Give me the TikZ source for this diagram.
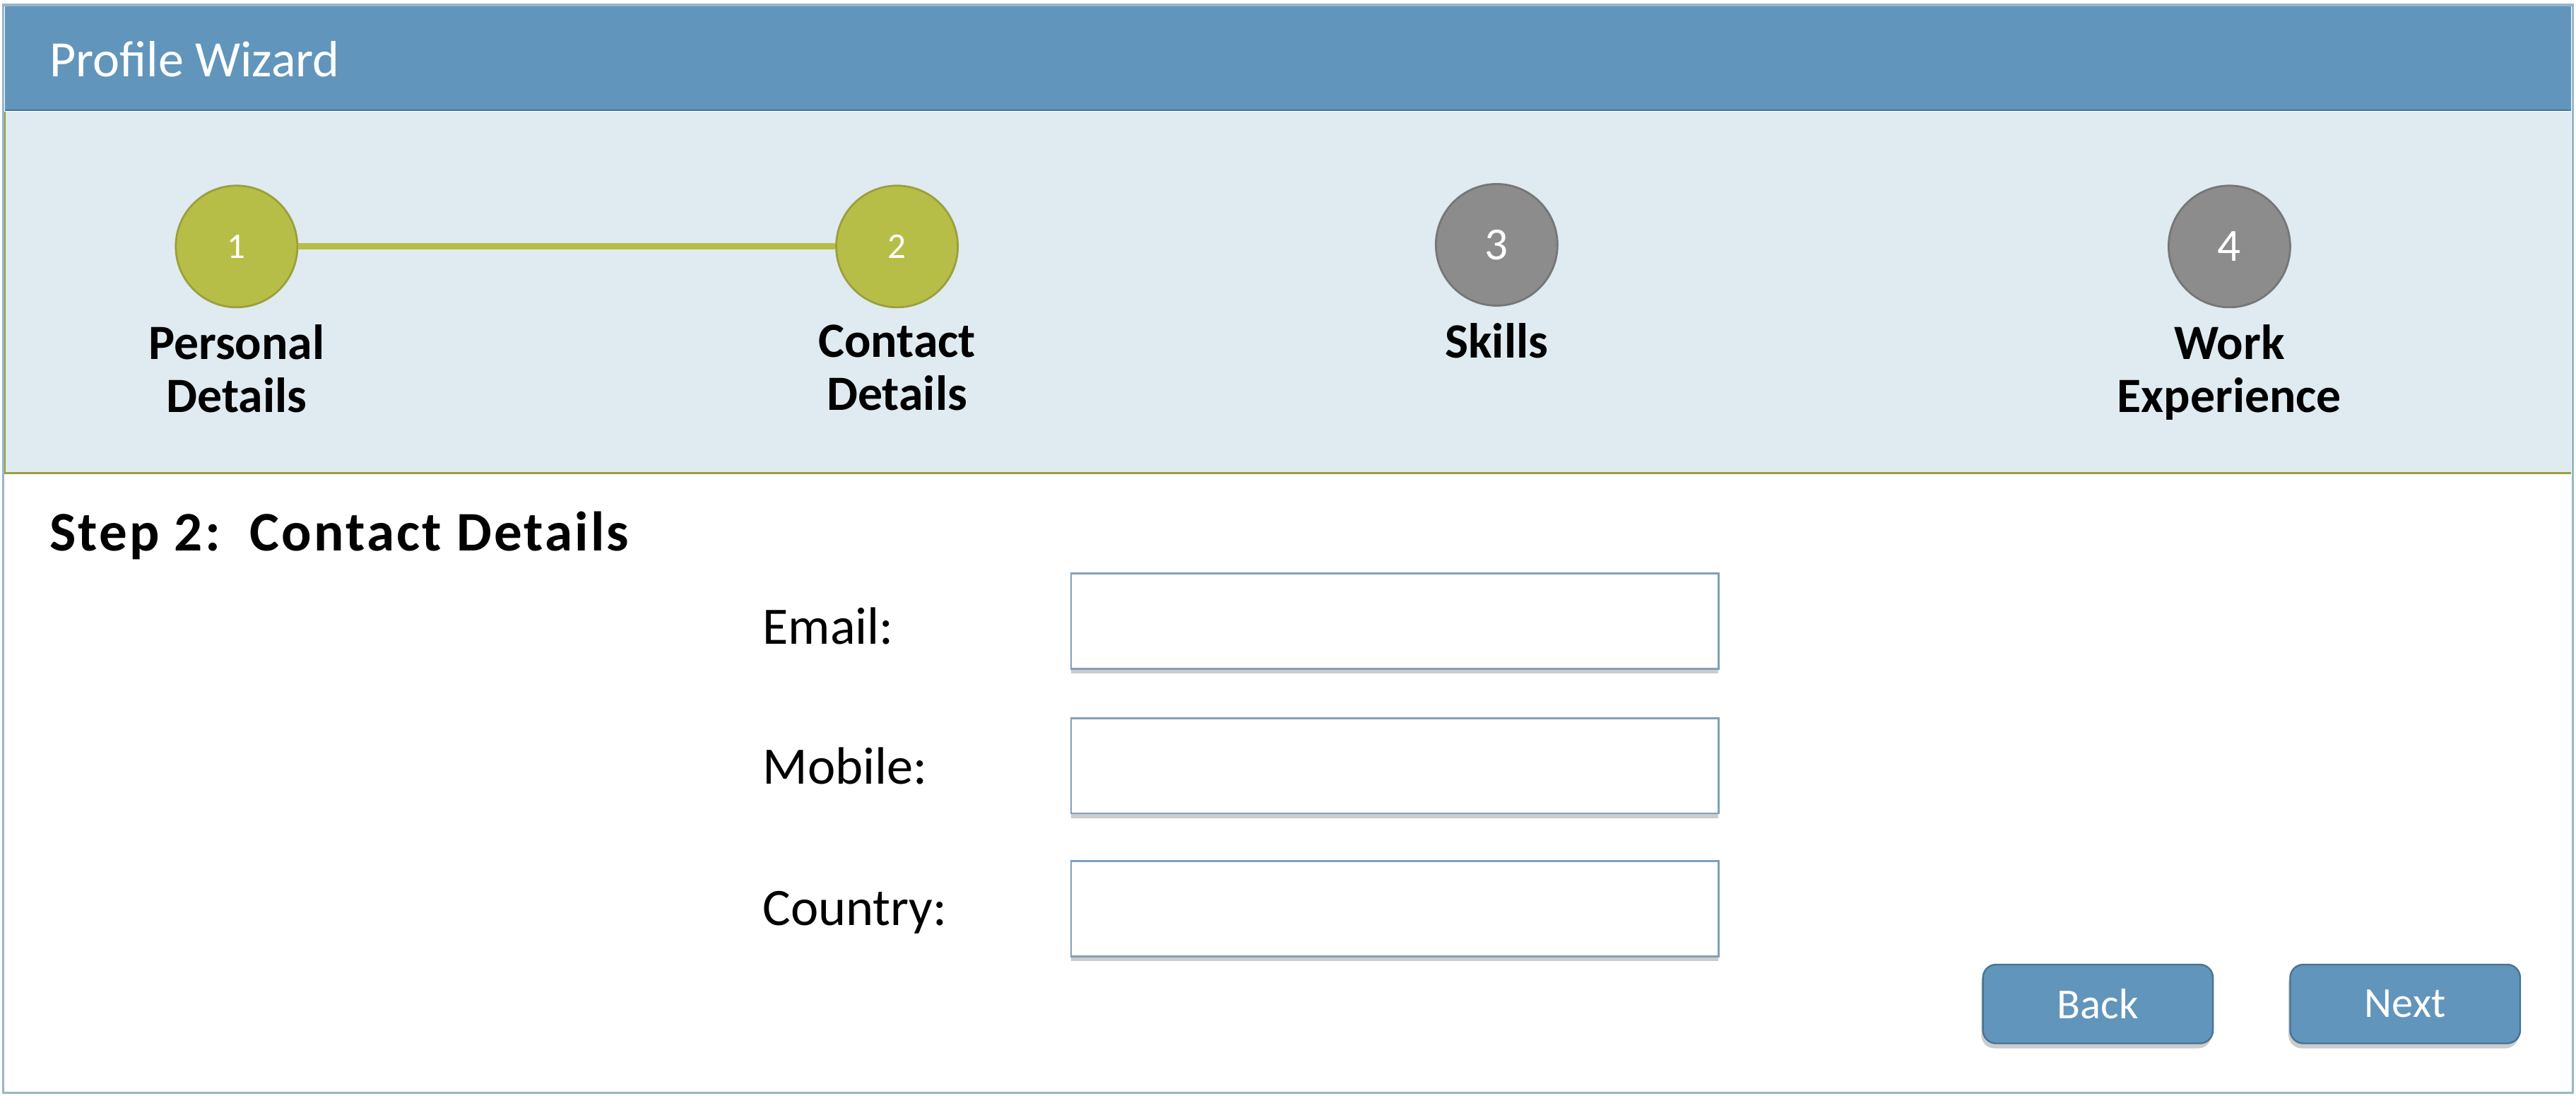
\documentclass[tikz,border=0pt]{standalone}
\usepackage{fontspec}
\setmainfont{Carlito}
\usetikzlibrary{positioning}
\usetikzlibrary{shadows}

\definecolor{wizblue}{RGB}{97,149,188}
\definecolor{wizblueline}{RGB}{72,114,148}
\definecolor{panelbg}{RGB}{223,234,241}
\definecolor{stepdone}{RGB}{183,190,72}
\definecolor{stepdoneline}{RGB}{154,160,58}
\definecolor{steptodo}{RGB}{140,140,140}
\definecolor{steptodoline}{RGB}{118,118,118}
\definecolor{fieldline}{RGB}{128,160,186}
\definecolor{framecol}{RGB}{150,182,204}

\begin{document}
\begin{tikzpicture}[x=1pt, y=-1pt,
                    done/.style={circle, draw=stepdoneline, fill=stepdone, line width=1.2pt,
                                 minimum size=74pt, inner sep=0pt, text=white,
                                 font=\fontsize{22}{24}\selectfont},
                    todo/.style={done, draw=steptodoline, fill=steptodo,
                                 font=\fontsize{28}{30}\selectfont},
                    steplabel/.style={align=center, inner sep=0pt,
                                      font=\bfseries\fontsize{30}{32}\selectfont},
                    formlabel/.style={anchor=base west, inner sep=0pt,
                                      font=\fontsize{32}{34}\selectfont},
                    field/.style={draw=fieldline, fill=white, line width=1.2pt,
                                  minimum width=394pt, minimum height=58pt,
                                  drop shadow={shadow xshift=0pt, shadow yshift=-3pt, opacity=.4}},
                    button/.style={draw=wizblueline, fill=wizblue, line width=1pt,
                                   rounded corners=8pt, text=white,
                                   minimum width=140pt, minimum height=48pt,
                                   font=\fontsize{26}{28}\selectfont,
                                   drop shadow={shadow xshift=-1pt, shadow yshift=-3pt, opacity=.4}}]
    \useasboundingbox (0,0) rectangle (1568,667);
    % window
    \draw[framecol, fill=white, line width=1.5pt] (2,3) rectangle (1566,665);
    \fill[wizblue] (3,4) rectangle (1565,67);
    \draw[wizblueline, line width=1pt] (3,67) -- (1565,67);
    \fill[panelbg] (3,68) rectangle (1565,288);
    \draw[stepdoneline, line width=1.2pt] (3,68) -- (3,288) -- (1565,288);
    \node[anchor=west, text=white, inner sep=0pt, font=\fontsize{31}{34}\selectfont]
        (title) at (30,36) {Profile Wizard};

    % steps
    \node[done] (s1) at (144,150) {1};
    \node[done] (s2) at (546,150) {2};
    \node[todo] (s3) at (911,149) {3};
    \node[todo] (s4) at (1357,150) {4};
    \draw[stepdone, line width=4pt] (s1) -- (s2);
    \node[steplabel, below=10pt of s1] (l1) {Personal\\Details};
    \node[steplabel, below=10pt of s2] (l2) {Contact\\Details};
    \node[steplabel, below=10pt of s3] (l3) {Skills};
    \node[steplabel, below=10pt of s4] (l4) {Work\\Experience};

    % form
    \node[anchor=west, inner sep=0pt,
          font=\bfseries\fontsize{34}{36}\selectfont\addfontfeature{LetterSpace=4}]
        (heading) at (30,326) {Step 2:\ \ Contact Details};
    \node[field] (email) at (849,378) {};
    \node[field] (mobile) at (849,466) {};
    \node[field] (country) at (849,553) {};
    \node[formlabel] (emaillbl) at (464,392) {Email:};
    \node[formlabel] (mobilelbl) at (464,477) {Mobile:};
    \node[formlabel] (countrylbl) at (464,563) {Country:};

    % buttons
    \node[button] (back) at (1277,611) {Back};
    \node[button] (next) at (1464,611) {Next};
\end{tikzpicture}
\end{document}
